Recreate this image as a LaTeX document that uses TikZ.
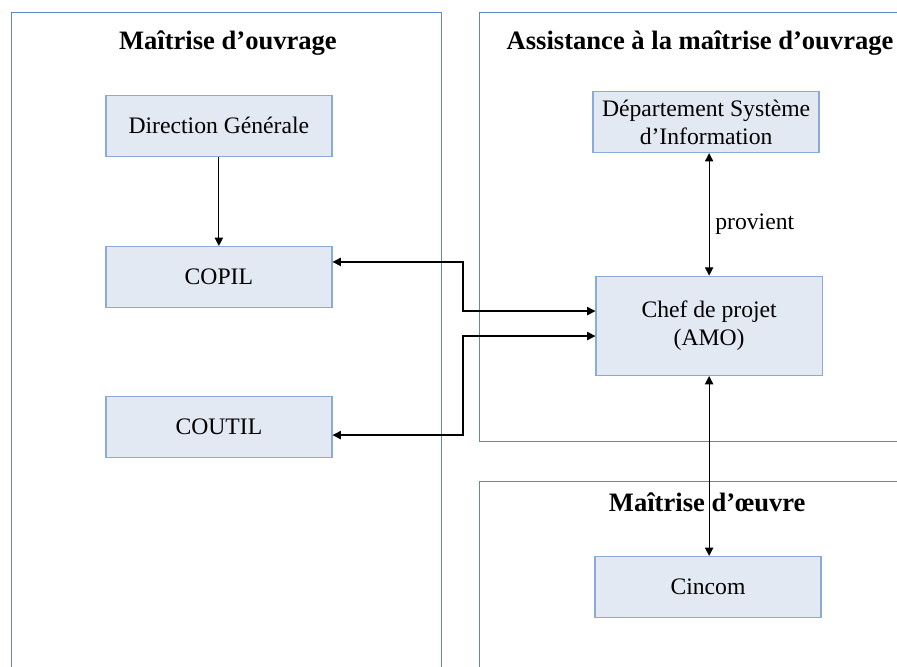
\documentclass[tikz,border=0pt]{standalone}
\usepackage{fontspec}
\setmainfont{Liberation Serif}
\usetikzlibrary{arrows.meta}
\definecolor{frameblue}{RGB}{95,135,195}
\definecolor{boxline}{RGB}{140,170,215}
\definecolor{boxfill}{RGB}{226,233,243}

\begin{document}
\begin{tikzpicture}[
    container/.style={rectangle, draw=frameblue, line width=0.6pt},
    box/.style={rectangle, draw=boxline, line width=1pt, fill=boxfill, minimum width=5.98cm, minimum height=1.61cm, align=center, font=\fontsize{17.8}{21}\selectfont},
    title/.style={font=\fontsize{20}{24}\selectfont\bfseries},
    label/.style={font=\fontsize{17.8}{21}\selectfont, anchor=west},
    arrow/.style={{Triangle[length=2.2mm,width=2.2mm]}-{Triangle[length=2.2mm,width=2.2mm]}, line width=0.9pt},
    single/.style={-{Triangle[length=2.2mm,width=2.2mm]}, line width=0.9pt}
]
\useasboundingbox (0,0) rectangle (23.73,17.62);

% zones
\draw[container] (0.29,-1) rectangle (11.67,17.28);
\draw[container] (12.67,5.95) rectangle (25,17.28);
\draw[container] (12.67,-1) rectangle (25,4.89);

\node[title] (moa) at (6.03, 16.48) {Maîtrise d’ouvrage};
\node[title] (amo) at (18.52, 16.48) {Assistance à la maîtrise d’ouvrage};
\node[title] (moe) at (18.71, 4.34) {Maîtrise d’œuvre};

\node[box] (dg) at (5.79, 14.29) {Direction Générale};
\node[box] (copil) at (5.79, 10.29) {COPIL};
\node[box] (coutil) at (5.79, 6.32) {COUTIL};

\node[box] (dsi) at (18.68, 14.39) {Département Système\\d’Information};
\node[box, minimum height=2.62cm] (chef) at (18.76, 9.0) {Chef de projet\\(AMO)};
\node[box] (cincom) at (18.73, 2.09) {Cincom};

\node[label] (provient) at (18.8, 11.69) {provient};

\coordinate (jx) at (12.25, 0);
\coordinate (copil-out) at ([yshift=4mm]copil.east);
\coordinate (coutil-out) at ([yshift=-2.1mm]coutil.east);
\coordinate (chef-in1) at ([yshift=3.9mm]chef.west);
\coordinate (chef-in2) at ([yshift=-2.7mm]chef.west);

\draw[single] (dg.south) -- (copil.north);
\draw[arrow] (copil-out) -- (copil-out -| jx) |- (chef-in1);
\draw[arrow] (coutil-out) -- (coutil-out -| jx) |- (chef-in2);
\draw[arrow] (chef.north) -- (chef.north |- dsi.south);
\draw[arrow] (chef.south) -- (chef.south |- cincom.north);

\end{tikzpicture}
\end{document}
